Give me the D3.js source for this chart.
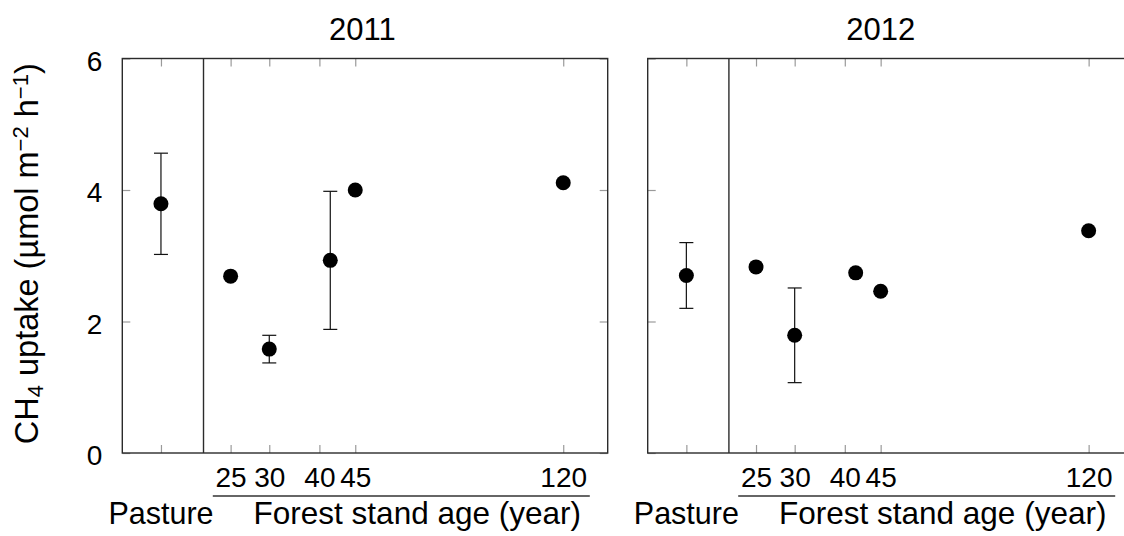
<!DOCTYPE html>
<html>
<head>
<meta charset="utf-8">
<script src="https://cdn.jsdelivr.net/npm/d3@7"></script>
<style>
  body { margin: 0; background: #fff; }
  svg { display: block; font-family: "Liberation Sans", Arial, Helvetica, sans-serif; }
</style>
</head>
<body>
<svg id="chart" width="1124" height="536"></svg>
<script>
// ---- data -------------------------------------------------------------
const years = ["2011", "2012"];
// forest stand ages (years) of the sampled stands
const standAges = [25, 30, 40, 45, 120];
// age-axis ticks and the labels printed under them
const ageTickValues = [25, 30, 38, 45, 120];
const ageTickLabels = ["25", "30", "40", "45", "120"];
// pasture reference site: mean CH4 uptake and error half-width per year
const pastureMean = [3.79, 2.70];
const pastureErr = [0.77, 0.50];
// forest stands: mean CH4 uptake and error half-width (0 = none drawn)
const forest2011 = [2.69, 1.58, 2.93, 4.00, 4.11];
const forest2011Err = [0, 0.21, 1.05, 0, 0];
const forest2012 = [2.83, 1.79, 2.74, 2.46, 3.38];
const forest2012Err = [0, 0.72, 0, 0, 0];
const yTicks = [0, 2, 4, 6];

const forestMeans = [forest2011, forest2012];
const forestErrs = [forest2011Err, forest2012Err];

// ---- layout -----------------------------------------------------------
const svg = d3.select("#chart");
const panelLeft = [122.3, 647.7];
const panelTop = 58.5;
const panelW = 485.4;
const panelH = 394.5;
const titleOffset = [240, 233];
const pastureSlot = 18;   // where the pasture column sits on the age axis
const dividerAt = 22;     // vertical rule separating pasture from forest

const x = d3.scaleLog().domain([15, 148]).range([0, panelW]);
const y = d3.scaleLinear().domain([0, 6]).range([panelH, 0]);

const frameColor = "#2b2b2b";
const tickColor = "#9a9a9a";

years.forEach((yr, i) => {
  const g = svg.append("g").attr("transform", `translate(${panelLeft[i]},${panelTop})`);

  // inward ticks on all four sides
  const xTicks = [pastureSlot, ...ageTickValues];
  const bottom = g.append("g").attr("transform", `translate(0,${panelH})`)
    .call(d3.axisBottom(x).tickValues(xTicks).tickSize(-8)
      .tickFormat((d, k) => k === 0 ? "" : ageTickLabels[k - 1]));
  bottom.selectAll("text")
    .attr("y", 33.5).attr("dy", null)
    .attr("font-size", 28).attr("fill", "#000")
    .attr("font-family", null);
  g.append("g")
    .call(d3.axisTop(x).tickValues(xTicks).tickSize(-8).tickFormat(""));
  const left = g.append("g")
    .call(d3.axisLeft(y).tickValues(yTicks).tickSize(-8).tickPadding(20)
      .tickFormat(i === 0 ? d3.format("d") : ""));
  left.selectAll("text").attr("font-size", 28).attr("fill", "#000")
    .attr("font-family", null).attr("dy", "0.42em");
  g.append("g").attr("transform", `translate(${panelW},0)`)
    .call(d3.axisRight(y).tickValues(yTicks).tickSize(-8).tickFormat(""));

  g.selectAll(".domain").remove();
  g.selectAll(".tick line").attr("stroke", tickColor).attr("stroke-width", 1.2);

  // frame and pasture/forest divider
  g.append("rect")
    .attr("width", panelW).attr("height", panelH)
    .attr("fill", "none").attr("stroke", frameColor).attr("stroke-width", 1.4);
  g.append("line")
    .attr("x1", x(dividerAt)).attr("x2", x(dividerAt))
    .attr("y1", 0).attr("y2", panelH)
    .attr("stroke", frameColor).attr("stroke-width", 1.4);

  // panel title
  g.append("text")
    .attr("x", titleOffset[i]).attr("y", -18.5)
    .attr("text-anchor", "middle").attr("font-size", 31)
    .text(yr);

  // error bars + points
  const pts = [{ px: pastureSlot, m: pastureMean[i], e: pastureErr[i] }]
    .concat(standAges.map((a, k) => ({ px: a, m: forestMeans[i][k], e: forestErrs[i][k] })));

  const eb = g.append("g").attr("stroke", "#111").attr("stroke-width", 1.2);
  pts.filter(p => p.e > 0).forEach(p => {
    const cx = x(p.px);
    eb.append("line").attr("x1", cx).attr("x2", cx)
      .attr("y1", y(p.m + p.e)).attr("y2", y(p.m - p.e));
    [p.m + p.e, p.m - p.e].forEach(v => {
      eb.append("line").attr("x1", cx - 7).attr("x2", cx + 7)
        .attr("y1", y(v)).attr("y2", y(v));
    });
  });

  g.append("g").selectAll("circle").data(pts).join("circle")
    .attr("cx", p => x(p.px)).attr("cy", p => y(p.m))
    .attr("r", 7.5).attr("fill", "#000");

  // category labels under the axis
  g.append("line")
    .attr("x1", 90.5).attr("x2", 467.5)
    .attr("y1", panelH + 43).attr("y2", panelH + 43)
    .attr("stroke", "#333").attr("stroke-width", 1.3);
  g.append("text")
    .attr("x", x(pastureSlot)).attr("y", panelH + 71)
    .attr("text-anchor", "middle").attr("font-size", 30.5)
    .text("Pasture");
  g.append("text")
    .attr("x", 295).attr("y", panelH + 71)
    .attr("text-anchor", "middle").attr("font-size", 31.5)
    .text("Forest stand age (year)");
});

// y-axis title
const yt = svg.append("text")
  .attr("transform", `translate(38,${panelTop + panelH / 2 - 2}) rotate(-90)`)
  .attr("text-anchor", "middle").attr("font-size", 32.5);
yt.append("tspan").text("CH");
yt.append("tspan").attr("font-size", 22).attr("baseline-shift", "-22%").text("4");
yt.append("tspan").text(" uptake (µmol m");
yt.append("tspan").attr("font-size", 22).attr("baseline-shift", "45%").text("−2");
yt.append("tspan").text(" h");
yt.append("tspan").attr("font-size", 22).attr("baseline-shift", "45%").text("−1");
yt.append("tspan").text(")");
</script>
</body>
</html>
